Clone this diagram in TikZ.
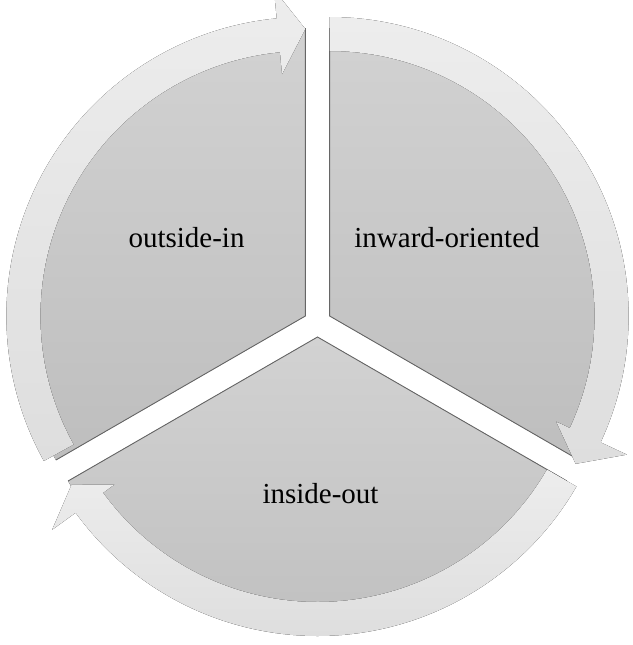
\documentclass[tikz,border=0pt]{standalone}
\usepackage{fontspec}
\setmainfont{Liberation Serif}
\usetikzlibrary{calc}

\definecolor{sectortop}{RGB}{210,210,210}
\definecolor{sectorbottom}{RGB}{190,190,190}
\definecolor{arrowtop}{RGB}{237,237,237}
\definecolor{arrowbottom}{RGB}{222,222,222}

\begin{document}
\begin{tikzpicture}[
	x=1pt, y=1pt,
	sector/.style={top color=sectortop, bottom color=sectorbottom},
	sectoredge/.style={draw=black!60, line width=0.9pt},
	ringarrow/.style={top color=arrowtop, bottom color=arrowbottom},
	label/.style={font=\fontsize{29}{34}\selectfont, text=black}
]

\def\gap{14}
\def\rsec{288}
\def\rin{265}
\def\rout{299}
\def\rtip{287}
\def\hout{328}

\useasboundingbox (0,0) rectangle (632,-645);
\coordinate (ctr) at (317.5,-323);

% three segments, pushed out from the centre
\foreach \n/\a in {left/150, right/30, bottom/270} {
	\coordinate (apex-\n) at ($(ctr)+(\a:\gap)$);
	\fill[sector] (apex-\n) -- ($(apex-\n)+(\a+60:\rsec)$) arc[start angle=\a+60, end angle=\a-60, radius=\rsec pt] -- cycle;
	\draw[sectoredge] ($(apex-\n)+(\a+60:\rsec)$) -- (apex-\n) -- ($(apex-\n)+(\a-60:\rsec)$);
}

% arrows round the rim
\foreach \n/\t/\b/\p/\hin in {left/209/95.5/90/243, right/90/-25/-31/250, bottom/-30/-144/-149/251} {
	\fill[ringarrow] ($(apex-\n)+(\t:\rout)$) arc[start angle=\t, end angle=\b, radius=\rout pt]
		-- ($(apex-\n)+(\b:\hout)$) -- ($(apex-\n)+(\p:\rtip)$) -- ($(apex-\n)+(\b:\hin)$)
		-- ($(apex-\n)+(\b:\rin)$) arc[start angle=\b, end angle=\t, radius=\rin pt] -- cycle;
}

\node[label] (outside) at (186.5,-238) {outside-in};
\node[label] (inward) at (447,-238) {inward-oriented};
\node[label] (inside) at (320.5,-494) {inside-out};

\end{tikzpicture}
\end{document}
